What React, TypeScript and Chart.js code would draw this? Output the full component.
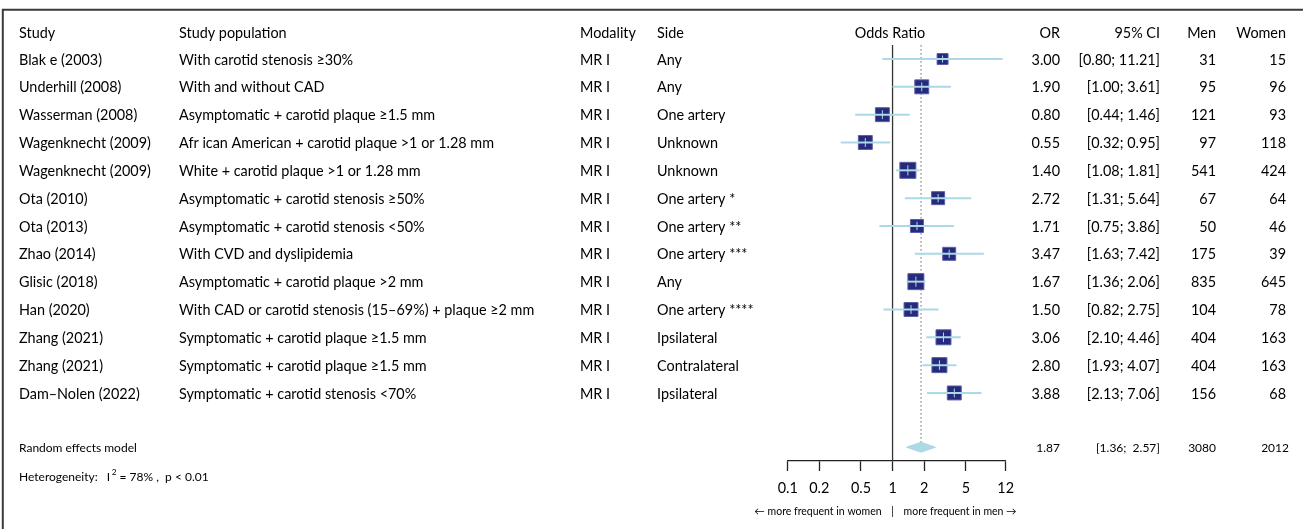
import React, { useEffect, useRef } from 'react';
import { Chart, registerables } from 'chart.js';

Chart.register(...registerables);

// ---------- data ----------
const studies = [
  'Blak e (2003)',
  'Underhill (2008)',
  'Wasserman (2008)',
  'Wagenknecht (2009)',
  'Wagenknecht (2009)',
  'Ota (2010)',
  'Ota (2013)',
  'Zhao (2014)',
  'Glisic (2018)',
  'Han (2020)',
  'Zhang (2021)',
  'Zhang (2021)',
  'Dam–Nolen (2022)',
];
const populations = [
  'With carotid stenosis ≥30%',
  'With and without CAD',
  'Asymptomatic + carotid plaque ≥1.5 mm',
  'Afr ican American + carotid plaque >1 or 1.28 mm',
  'White + carotid plaque >1 or 1.28 mm',
  'Asymptomatic + carotid stenosis ≥50%',
  'Asymptomatic + carotid stenosis <50%',
  'With CVD and dyslipidemia',
  'Asymptomatic + carotid plaque >2 mm',
  'With CAD or carotid stenosis (15–69%) + plaque ≥2 mm',
  'Symptomatic + carotid plaque ≥1.5 mm',
  'Symptomatic + carotid plaque ≥1.5 mm',
  'Symptomatic + carotid stenosis <70%',
];
const modalities = ['MR I', 'MR I', 'MR I', 'MR I', 'MR I', 'MR I', 'MR I', 'MR I', 'MR I', 'MR I', 'MR I', 'MR I', 'MR I'];
const sides = [
  'Any',
  'Any',
  'One artery',
  'Unknown',
  'Unknown',
  'One artery *',
  'One artery **',
  'One artery ***',
  'Any',
  'One artery ****',
  'Ipsilateral',
  'Contralateral',
  'Ipsilateral',
];
const oddsRatios = [3.0, 1.9, 0.8, 0.55, 1.4, 2.72, 1.71, 3.47, 1.67, 1.5, 3.06, 2.8, 3.88];
const ciLower = [0.8, 1.0, 0.44, 0.32, 1.08, 1.31, 0.75, 1.63, 1.36, 0.82, 2.1, 1.93, 2.13];
const ciUpper = [11.21, 3.61, 1.46, 0.95, 1.81, 5.64, 3.86, 7.42, 2.06, 2.75, 4.46, 4.07, 7.06];
const menCounts = [31, 95, 121, 97, 541, 67, 50, 175, 835, 104, 404, 404, 156];
const womenCounts = [15, 96, 93, 118, 424, 64, 46, 39, 645, 78, 163, 163, 68];
// estimated study weights (%), read from square sizes
const weights = [4.7, 7.6, 7.6, 7.6, 10.0, 6.6, 6.6, 6.6, 10.0, 7.6, 8.8, 8.8, 7.6];

const summaryLabel = 'Random effects model';
const summaryOR = 1.87;
const summaryLower = 1.36;
const summaryUpper = 2.57;
const summaryMen = 3080;
const summaryWomen = 2012;
const heterogeneityI2 = '78%';
const heterogeneityP = 'p < 0.01';

const axisTicks = [0.1, 0.2, 0.5, 1, 2, 5, 12];
const headerLabels = ['Study', 'Study population', 'Modality', 'Side', 'Odds Ratio', 'OR', '95% CI', 'Men', 'Women'];
const axisNoteLeft = '← more frequent in women';
const axisNoteRight = 'more frequent in men →';

// ---------- layout / style ----------
const W = 1303;
const H = 529;
const PLOT_LEFT = 787.7;
const PLOT_RIGHT = 1005.7;
const PLOT_TOP = 45.1;
const PLOT_BOTTOM = 461;
const Y_MIN = -0.5;
const Y_MAX = 14.445;
const SUMMARY_ROW = 13.95;
const HET_ROW = 14.98;
const HEADER_ROW = -0.97;
const DIAMOND_HALF = 0.18;

const FONT = 'Lato, "Noto Sans", sans-serif';
const MAIN_SIZE = 14.4;
const SMALL_SIZE = 12;
const NAVY = '#252a7c';
const LIGHTBLUE = '#add8e6';

const COL = {
  study: 19,
  population: 179,
  modality: 580,
  side: 657,
  oddsCenter: 890,
  or: 1060,
  ci: 1160,
  men: 1216,
  women: 1286,
};

const fmt = (v: number) => v.toFixed(2);
const squareSide = (w: number) => 2.53 * Math.sqrt(w) * 2;

const textPlugin = {
  id: 'forestText',
  afterDraw(chart: any) {
    const ctx = chart.ctx as CanvasRenderingContext2D;
    const y = chart.scales.y;
    const x = chart.scales.x;
    ctx.save();
    // frame
    ctx.strokeStyle = '#3a3a3a';
    ctx.lineWidth = 2;
    ctx.beginPath();
    ctx.moveTo(2.8, H);
    ctx.lineTo(2.8, 9.7);
    ctx.lineTo(W, 9.7);
    ctx.stroke();

    ctx.fillStyle = '#000';
    ctx.textBaseline = 'middle';
    const put = (t: string, px: number, row: number, align: CanvasTextAlign, size = MAIN_SIZE) => {
      ctx.font = `${size}px ${FONT}`;
      ctx.textAlign = align;
      ctx.fillText(t, px, y.getPixelForValue(row) + 1);
    };
    // headers
    put(headerLabels[0], COL.study, HEADER_ROW, 'left');
    put(headerLabels[1], COL.population, HEADER_ROW, 'left');
    put(headerLabels[2], COL.modality, HEADER_ROW, 'left');
    put(headerLabels[3], COL.side, HEADER_ROW, 'left');
    put(headerLabels[4], COL.oddsCenter, HEADER_ROW, 'center');
    put(headerLabels[5], COL.or, HEADER_ROW, 'right');
    put(headerLabels[6], COL.ci, HEADER_ROW, 'right');
    put(headerLabels[7], COL.men, HEADER_ROW, 'right');
    put(headerLabels[8], COL.women, HEADER_ROW, 'right');
    // rows
    studies.forEach((s, i) => {
      put(s, COL.study, i, 'left');
      put(populations[i], COL.population, i, 'left');
      put(modalities[i], COL.modality, i, 'left');
      put(sides[i], COL.side, i, 'left');
      put(fmt(oddsRatios[i]), COL.or, i, 'right');
      put(`[${fmt(ciLower[i])}; ${fmt(ciUpper[i])}]`, COL.ci, i, 'right');
      put(String(menCounts[i]), COL.men, i, 'right');
      put(String(womenCounts[i]), COL.women, i, 'right');
    });
    // summary
    put(summaryLabel, COL.study, SUMMARY_ROW, 'left', SMALL_SIZE);
    put(fmt(summaryOR), COL.or, SUMMARY_ROW, 'right', SMALL_SIZE);
    put(`[${fmt(summaryLower)};  ${fmt(summaryUpper)}]`, COL.ci, SUMMARY_ROW, 'right', SMALL_SIZE);
    put(String(summaryMen), COL.men, SUMMARY_ROW, 'right', SMALL_SIZE);
    put(String(summaryWomen), COL.women + 3, SUMMARY_ROW, 'right', SMALL_SIZE);
    // heterogeneity with superscript
    const hy = y.getPixelForValue(HET_ROW) + 1;
    ctx.textAlign = 'left';
    ctx.font = `${SMALL_SIZE}px ${FONT}`;
    let cx = COL.study;
    const p1 = 'Heterogeneity:   I';
    ctx.fillText(p1, cx, hy);
    cx += ctx.measureText(p1).width + 1.5;
    ctx.font = `${SMALL_SIZE * 0.7}px ${FONT}`;
    ctx.fillText('2', cx, hy - 5);
    cx += ctx.measureText('2').width + 3;
    ctx.font = `${SMALL_SIZE}px ${FONT}`;
    ctx.fillText(`= ${heterogeneityI2} ,  ${heterogeneityP}`, cx, hy);

    // axis note
    const x1 = x.getPixelForValue(1);
    const ny = 512;
    ctx.font = `10.5px ${FONT}`;
    ctx.textAlign = 'right';
    ctx.fillText(axisNoteLeft, x1 - 11, ny);
    ctx.textAlign = 'center';
    ctx.fillText('|', x1, ny);
    ctx.textAlign = 'left';
    ctx.fillText(axisNoteRight, x1 + 11, ny);
    ctx.restore();
  },
};

export default function App() {
  const ref = useRef<HTMLCanvasElement | null>(null);

  useEffect(() => {
    document.body.style.margin = '0';
    const canvas = ref.current;
    if (!canvas) return;
    const rows = studies.map((_, i) => i);
    const sizes = weights.map(squareSide);

    const ciSets = rows.map((i) => ({
      type: 'line' as const,
      data: [
        { x: ciLower[i], y: i },
        { x: ciUpper[i], y: i },
      ],
      borderColor: LIGHTBLUE,
      borderWidth: 2,
      pointRadius: 0,
      showLine: true,
      clip: false as any,
    }));

    const chart = new Chart(canvas, {
      type: 'scatter',
      data: {
        datasets: [
          {
            // tick at point estimate inside each square
            type: 'scatter',
            data: rows.map((i) => ({ x: oddsRatios[i], y: i })),
            pointStyle: 'line',
            pointRotation: 90,
            pointRadius: sizes.map((s) => s * 0.32),
            pointBorderColor: LIGHTBLUE,
            pointBorderWidth: 1,
            clip: false as any,
          } as any,
          ...ciSets,
          {
            type: 'scatter',
            data: rows.map((i) => ({ x: oddsRatios[i], y: i })),
            pointStyle: 'rect',
            pointRadius: sizes.map((s) => s / 2 / Math.SQRT1_2),
            pointBackgroundColor: NAVY,
            pointBorderColor: '#5a5fa8',
            pointBorderWidth: 1,
            clip: false as any,
          } as any,
          {
            type: 'line',
            data: [
              { x: summaryLower, y: SUMMARY_ROW },
              { x: summaryOR, y: SUMMARY_ROW - DIAMOND_HALF },
              { x: summaryUpper, y: SUMMARY_ROW },
              { x: summaryOR, y: SUMMARY_ROW + DIAMOND_HALF },
              { x: summaryLower, y: SUMMARY_ROW },
            ],
            borderColor: LIGHTBLUE,
            backgroundColor: LIGHTBLUE,
            borderWidth: 1,
            fill: 'shape',
            pointRadius: 0,
            showLine: true,
            tension: 0,
            clip: false as any,
          } as any,
          {
            type: 'line',
            data: [
              { x: summaryOR, y: Y_MIN },
              { x: summaryOR, y: SUMMARY_ROW - DIAMOND_HALF },
            ],
            borderColor: '#666',
            borderWidth: 1,
            borderDash: [1.5, 2.5],
            pointRadius: 0,
            showLine: true,
            clip: false as any,
          } as any,
          {
            type: 'line',
            data: [
              { x: 1, y: Y_MIN },
              { x: 1, y: Y_MAX },
            ],
            borderColor: '#333',
            borderWidth: 1.3,
            pointRadius: 0,
            showLine: true,
            clip: false as any,
          } as any,
        ],
      },
      options: {
        animation: false,
        responsive: false,
        devicePixelRatio: 1,
        layout: {
          padding: { left: PLOT_LEFT, right: W - PLOT_RIGHT, top: PLOT_TOP, bottom: 0 },
        },
        plugins: {
          legend: { display: false },
          tooltip: { enabled: false },
        },
        scales: {
          x: {
            type: 'logarithmic',
            min: axisTicks[0],
            max: axisTicks[axisTicks.length - 1],
            afterBuildTicks: (scale: any) => {
              scale.ticks = axisTicks.map((v) => ({ value: v }));
            },
            afterFit: (scale: any) => {
              scale.height = H - PLOT_BOTTOM;
            },
            grid: {
              display: true,
              drawOnChartArea: false,
              drawTicks: true,
              tickLength: 10,
              tickColor: '#222',
              tickWidth: 1.3,
            },
            border: { display: true, color: '#222', width: 1.3 },
            ticks: {
              autoSkip: false,
              maxRotation: 0,
              padding: 9,
              color: '#000',
              font: { family: FONT, size: 14.4 },
              callback: (v: any) => String(v),
            },
          },
          y: {
            type: 'linear',
            display: false,
            reverse: true,
            min: Y_MIN,
            max: Y_MAX,
          },
        },
      } as any,
      plugins: [textPlugin],
    });
    return () => chart.destroy();
  }, []);

  return (
    <div style={{ width: W, height: H, background: '#fff' }}>
      <canvas ref={ref} width={W} height={H} style={{ display: 'block', width: W, height: H }} />
    </div>
  );
}
